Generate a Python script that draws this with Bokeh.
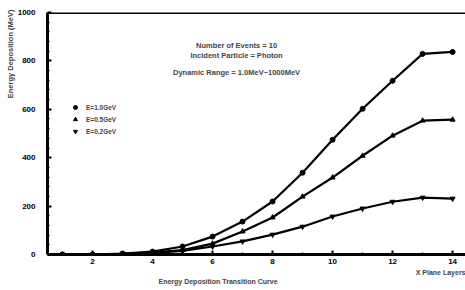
from bokeh.plotting import figure
from bokeh.models import Span, Label, Legend, LegendItem, FixedTicker, Title
from bokeh.embed import file_html
from bokeh.resources import INLINE

layers = [1, 2, 3, 4, 5, 6, 7, 8, 9, 10, 11, 12, 13, 14]
e_high = [0, 0, 4, 12, 33, 74, 136, 219, 338, 474, 602, 718, 829, 837]
e_mid = [0, 0, 3, 8, 18, 45, 95, 153, 239, 318, 408, 491, 553, 557]
e_low = [0, 0, 3, 7, 15, 33, 54, 82, 115, 157, 190, 218, 235, 231]
legend_labels = ["E=1.0GeV", "E=0.5GeV", "E=0.2GeV"]
x_ticks = [2, 4, 6, 8, 10, 12, 14]
x_minor = [1, 3, 5, 7, 9, 11, 13]
y_ticks = [0, 200, 400, 600, 800, 1000]
y_minor = [v for v in range(0, 1001, 40) if v % 200]
notes = ["Number of Events = 10", "Incident Particle = Photon", "Dynamic Range = 1.0MeV~1000MeV"]

FONT = "Liberation Sans"

p = figure(width=465, height=290, x_range=(0.5, 14.43), y_range=(0, 1000),
           output_backend="svg", toolbar_location=None,
           min_border_left=47, min_border_right=0, min_border_top=12, min_border_bottom=36)
p.outline_line_color = None
p.xgrid.visible = False
p.ygrid.visible = False

for ax in (p.xaxis[0], p.yaxis[0]):
    ax.axis_line_width = 3
    ax.axis_line_color = "black"
    ax.major_tick_line_width = 2
    ax.minor_tick_line_width = 1.5
    ax.major_tick_in = 4
    ax.major_tick_out = 0
    ax.minor_tick_in = 2
    ax.minor_tick_out = 0
    ax.major_label_text_font = FONT
    ax.major_label_text_font_style = "bold"
    ax.major_label_text_font_size = "8px"
    ax.major_label_text_color = "black"

p.xaxis.ticker = FixedTicker(ticks=x_ticks, minor_ticks=x_minor)
p.yaxis.ticker = FixedTicker(ticks=y_ticks, minor_ticks=y_minor)
p.xaxis.major_label_standoff = 4
p.yaxis.major_label_standoff = 12

p.add_layout(Span(location=1000, dimension="width", line_color="black", line_width=3))

series = [(e_high, "circle"), (e_mid, "triangle"), (e_low, "inverted_triangle")]
items = []
for (vals, marker), lab in zip(series, legend_labels):
    p.line(layers, vals, line_color="black", line_width=2.2)
    r = p.scatter(layers, vals, marker=marker, size=5, color="black")
    items.append(LegendItem(label=lab, renderers=[r]))

legend = Legend(items=items, location=(23, 117), border_line_color=None,
                background_fill_alpha=0, padding=0, spacing=0, margin=0,
                label_text_font=FONT, label_text_font_style="bold",
                label_text_font_size="6.5px", label_height=12, glyph_height=12,
                glyph_width=10, label_standoff=6)
p.add_layout(legend)

for txt, yv in zip(notes, [862, 821, 751]):
    p.add_layout(Label(x=6.8, y=yv, text=txt, text_align="center", text_baseline="middle",
                       text_font=FONT, text_font_style="bold", text_font_size="7.5px"))

ytitle = Title(text="Energy Deposition (MeV)", align="right", offset=-3,
               text_font=FONT, text_font_style="bold", text_font_size="7.5px", standoff=0)
p.add_layout(ytitle, "left")

xlab = Title(text="X Plane Layers", align="right", offset=0, standoff=0,
             text_font=FONT, text_font_style="bold", text_font_size="7px")
p.add_layout(xlab, "below")
main = Title(text="Energy Deposition Transition Curve", align="left", offset=111, standoff=0,
             text_font=FONT, text_font_style="bold", text_font_size="7px")
p.add_layout(main, "below")

open("out.html", "w").write(file_html(p, INLINE))
